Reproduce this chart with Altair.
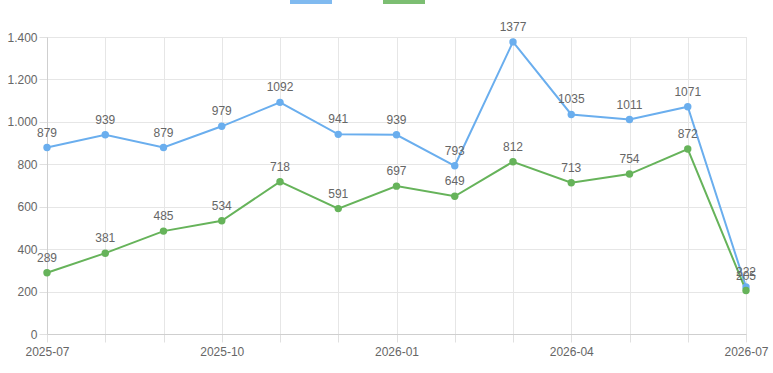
import altair as alt
import pandas as pd

months = ["2025-07", "2025-08", "2025-09", "2025-10", "2025-11",
          "2025-12", "2026-01", "2026-02", "2026-03", "2026-04",
          "2026-05", "2026-06", "2026-07"]
shown_ticks = ["2025-07", "2025-10", "2026-01", "2026-04", "2026-07"]
series_a = [879, 939, 879, 979, 1092, 941, 939, 793, 1377, 1035, 1011, 1071, 222]
series_b = [289, 381, 485, 534, 718, 591, 697, 649, 812, 713, 754, 872, 205]
names = ["Serie 1", "Serie 2"]
colors = ["#6aaeee", "#66b35a"]

rows = []
for m, a in zip(months, series_a):
    rows.append({"month": m, "value": a, "series": names[0]})
for m, b in zip(months, series_b):
    rows.append({"month": m, "value": b, "series": names[1]})
df = pd.DataFrame(rows)

FONT = "Liberation Sans"
tick_list = "[" + ",".join("'%s'" % t for t in shown_ticks) + "]"

x = alt.X("month:O",
          sort=months,
          scale=alt.Scale(type="point", domain=months, padding=0),
          axis=alt.Axis(title=None, labelAngle=0,
                        labelExpr="indexof(" + tick_list + ", datum.value) >= 0 ? datum.value : ''",
                        labelFont=FONT, labelFontSize=12, labelColor="#666",
                        labelPadding=4, labelFlush=False, labelOverlap=False,
                        grid=True, gridColor="#e6e6e6", domainColor="#cfcfcf",
                        tickColor="#e0e0e0", tickSize=8))
y = alt.Y("value:Q",
          scale=alt.Scale(domain=[0, 1400], nice=False),
          axis=alt.Axis(values=[0, 200, 400, 600, 800, 1000, 1200, 1400], title=None,
                        labelExpr="replace(format(datum.value, ','), ',', '.')",
                        labelFont=FONT, labelFontSize=12, labelColor="#666",
                        labelPadding=2,
                        grid=True, gridColor="#e6e6e6", domainColor="#cfcfcf",
                        tickColor="#e0e0e0", tickSize=8))
color = alt.Color("series:N",
                  scale=alt.Scale(domain=names, range=colors),
                  legend=alt.Legend(orient="none", legendX=243, legendY=-61,
                                    direction="horizontal", title=None,
                                    symbolType="M-1,-0.3H1V0.3H-1Z",
                                    symbolSize=1600, symbolStrokeWidth=2,
                                    symbolOpacity=0.85,
                                    labelExpr="''", labelOffset=0,
                                    columnPadding=45, padding=0))

base = alt.Chart(df)
lines = base.mark_line(strokeWidth=2).encode(x=x, y=y, color=color, detail="series:N")
points = base.mark_point(filled=True, size=55, opacity=1).encode(
    x=x, y=y, color=alt.Color("series:N", scale=alt.Scale(domain=names, range=colors), legend=None))
labels = base.mark_text(dy=-15, font=FONT, fontSize=12, color="#666").encode(
    x=x, y=y, text="value:Q")

chart = (lines + points + labels).properties(
    width=699, height=297,
    autosize=alt.AutoSizeParams(type="none"),
    padding={"left": 47, "top": 37, "right": 27, "bottom": 39},
).configure_view(stroke=None).configure(background="white")

chart.save("out.html", embed_options={"renderer": "svg", "actions": False})
